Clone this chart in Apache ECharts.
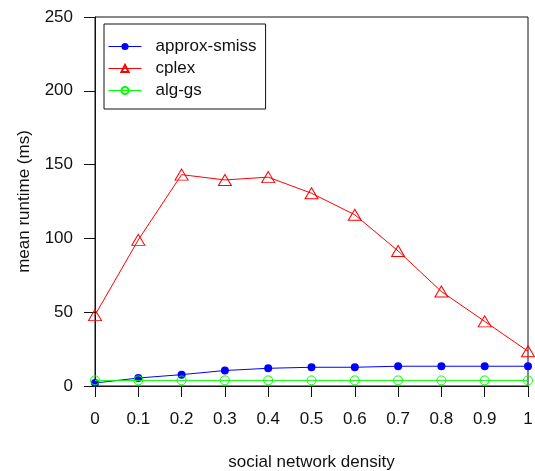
<!DOCTYPE html>
<html>
<head>
<meta charset="utf-8">
<script src="https://cdn.jsdelivr.net/npm/echarts@6/dist/echarts.min.js"></script>
<style>
  html, body { margin: 0; padding: 0; background: #fff; }
  #chart { width: 535px; height: 471px; }
</style>
</head>
<body>
<div id="chart"></div>
<script>
// Social network density on the x axis
const densities = [0, 0.1, 0.2, 0.3, 0.4, 0.5, 0.6, 0.7, 0.8, 0.9, 1];

// Mean runtime (ms) per method
const approxSmiss = [2.0, 5.4, 7.7, 10.5, 12.0, 12.7, 12.7, 13.4, 13.4, 13.4, 13.4];
const cplex = [48, 99, 143.2, 139.6, 141.5, 130.6, 116, 91.5, 64, 43.8, 23.5];
const algGs = [3.8, 3.8, 3.8, 3.8, 3.8, 3.8, 3.8, 3.8, 3.8, 3.8, 3.8];

const seriesNames = ['approx-smiss', 'cplex', 'alg-gs'];
const xTitle = 'social network density';
const yTitle = 'mean runtime (ms)';

const pairs = ys => densities.map((d, i) => [d, ys[i]]);
const FONT = '"Liberation Sans", Arial, sans-serif';
const INK = '#111';

const chart = echarts.init(document.getElementById('chart'), null, { renderer: 'canvas' });

const axisCommon = {
  axisLine: { show: true, onZero: false, lineStyle: { color: INK, width: 1 } },
  axisTick: { show: true, inside: false, length: 11, lineStyle: { color: INK, width: 1 } },
  splitLine: { show: false },
  axisLabel: { color: INK, fontFamily: FONT, fontSize: 17 },
  nameTextStyle: { color: INK, fontFamily: FONT, fontSize: 17 },
  nameLocation: 'middle'
};

chart.setOption({
  animation: false,
  backgroundColor: '#fff',
  grid: {
    left: 95, right: 7, top: 17, bottom: 85,
    containLabel: false, outerBoundsMode: 'none',
    show: true, borderColor: INK, borderWidth: 1, backgroundColor: 'transparent'
  },
  legend: {
    left: 104, top: 24,
    orient: 'vertical',
    data: seriesNames,
    backgroundColor: '#fff',
    borderColor: INK, borderWidth: 1,
    padding: [14, 9, 10, 4],
    itemWidth: 33, itemHeight: 9, itemGap: 5,
    lineStyle: { width: 1 },
    textStyle: { color: INK, fontFamily: FONT, fontSize: 17, padding: [0, 0, 0, 9] }
  },
  xAxis: Object.assign({}, axisCommon, {
    type: 'value', min: 0, max: 1, interval: 0.1,
    name: xTitle, nameGap: 68,
    axisLabel: Object.assign({}, axisCommon.axisLabel, {
      margin: 25,
      formatter: v => String(Math.round(v * 10) / 10)
    })
  }),
  yAxis: Object.assign({}, axisCommon, {
    type: 'value', min: 0, max: 250, interval: 50,
    name: yTitle, nameGap: 62, nameRotate: 90,
    axisLabel: Object.assign({}, axisCommon.axisLabel, { margin: 22 })
  }),
  series: [
    {
      name: seriesNames[0], type: 'line', data: pairs(approxSmiss),
      symbol: 'circle', symbolSize: 8,
      lineStyle: { color: '#0000ff', width: 1 },
      itemStyle: { color: '#0000ff' },
      z: 3
    },
    {
      name: seriesNames[1], type: 'line', data: pairs(cplex),
      symbol: 'triangle', symbolSize: [13, 11],
      lineStyle: { color: '#ff0000', width: 1 },
      itemStyle: { color: 'rgba(255,255,255,0)', borderColor: '#ff0000', borderWidth: 1 },
      z: 2
    },
    {
      name: seriesNames[2], type: 'line', data: pairs(algGs),
      symbol: 'circle', symbolSize: 9,
      lineStyle: { color: '#00ff00', width: 1 },
      itemStyle: { color: 'rgba(255,255,255,0)', borderColor: '#00ff00', borderWidth: 1 },
      z: 4
    }
  ]
});
</script>
</body>
</html>
